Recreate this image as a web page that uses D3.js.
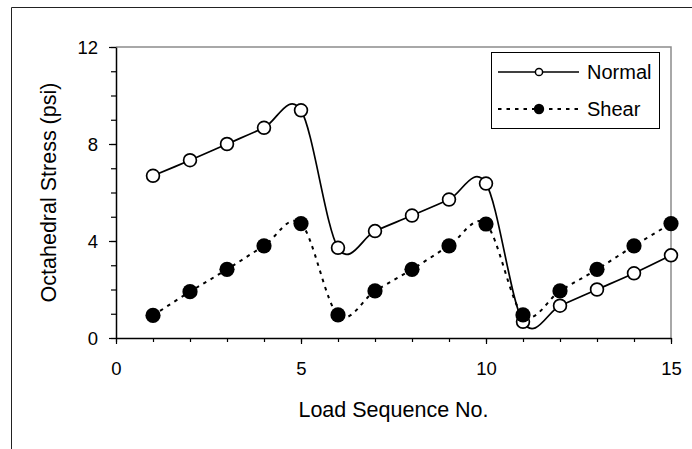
<!DOCTYPE html>
<html>
<head>
<meta charset="utf-8">
<script src="https://cdn.jsdelivr.net/npm/d3@7"></script>
<style>
  html, body { margin: 0; padding: 0; background: #fff; }
  svg { display: block; }
  text { font-family: "Liberation Sans", Arial, sans-serif; fill: #000; }
</style>
</head>
<body>
<svg id="chart" width="692" height="449"></svg>
<script>
// ---- data ----
const loadSeq = [1, 2, 3, 4, 5, 6, 7, 8, 9, 10, 11, 12, 13, 14, 15];
const normalStress = [6.69, 7.33, 8.00, 8.67, 9.39, 3.72, 4.41, 5.05, 5.71, 6.37, 0.67, 1.33, 2.00, 2.67, 3.41];
const shearStress  = [0.93, 1.91, 2.83, 3.80, 4.72, 0.95, 1.94, 2.83, 3.80, 4.70, 0.95, 1.94, 2.83, 3.80, 4.72];
const xTickLabels = [0, 5, 10, 15];
const yTickLabels = [0, 4, 8, 12];
const seriesNames = ["Normal", "Shear"];
const xTitle = "Load Sequence No.";
const yTitle = "Octahedral Stress (psi)";

const svg = d3.select("#chart");
const W = 692, H = 449;
const plot = { left: 116, right: 671, top: 47, bottom: 338 };

// outer frame (left and top edges visible)
svg.append("path")
  .attr("d", `M11.5,${H} L11.5,7.5 L${W},7.5`)
  .attr("fill", "none").attr("stroke", "#222").attr("stroke-width", 1);

const x = d3.scaleLinear().domain([0, 15]).range([plot.left, plot.right]);
const y = d3.scaleLinear().domain([0, 12]).range([plot.bottom, plot.top]);

// plot border top & right (gray)
svg.append("path")
  .attr("d", `M${plot.left},${plot.top} L${plot.right},${plot.top} L${plot.right},${plot.bottom}`)
  .attr("fill", "none").attr("stroke", "#8c8c8c").attr("stroke-width", 1.5);

// minor ticks
svg.append("g").attr("transform", `translate(${plot.left},0)`)
  .call(d3.axisLeft(y).tickValues(d3.range(0, 13)).tickSize(5).tickFormat(""))
  .call(g => g.select(".domain").remove())
  .call(g => g.selectAll("line").attr("stroke", "#000").attr("stroke-width", 1.2));
svg.append("g").attr("transform", `translate(0,${plot.bottom})`)
  .call(d3.axisBottom(x).tickValues(d3.range(0, 16)).tickSize(4).tickFormat(""))
  .call(g => g.select(".domain").remove())
  .call(g => g.selectAll("line").attr("stroke", "#000").attr("stroke-width", 1.2));

// major ticks + labels
const yAxis = svg.append("g").attr("transform", `translate(${plot.left},0)`)
  .call(d3.axisLeft(y).tickValues(yTickLabels).tickSize(7).tickPadding(11).tickSizeOuter(0));
yAxis.select(".domain").attr("stroke", "#000").attr("stroke-width", 1.5);
yAxis.selectAll("line").attr("stroke", "#000").attr("stroke-width", 1.2);
yAxis.selectAll("text").attr("font-size", 18.5).attr("font-family", "Liberation Sans, Arial, sans-serif")
  .attr("fill", "#000").attr("dy", "0.36em");

const xAxis = svg.append("g").attr("transform", `translate(0,${plot.bottom})`)
  .call(d3.axisBottom(x).tickValues(xTickLabels).tickSize(6).tickPadding(18).tickSizeOuter(0));
xAxis.select(".domain").attr("stroke", "#000").attr("stroke-width", 1.5);
xAxis.selectAll("line").attr("stroke", "#000").attr("stroke-width", 1.2);
xAxis.selectAll("text").attr("font-size", 18.5).attr("font-family", "Liberation Sans, Arial, sans-serif")
  .attr("fill", "#000");

// axis titles
svg.append("text")
  .attr("x", (plot.left + plot.right) / 2).attr("y", 417)
  .attr("text-anchor", "middle").attr("font-size", 21.5)
  .text(xTitle);
svg.append("text")
  .attr("transform", `translate(56,${(plot.top + plot.bottom) / 2}) rotate(-90)`)
  .attr("text-anchor", "middle").attr("font-size", 21.5)
  .text(yTitle);

// lines
const curve = d3.curveCardinal.tension(0);
const normalData = loadSeq.map((d, i) => [d, normalStress[i]]);
const shearData = loadSeq.map((d, i) => [d, shearStress[i]]);
const line = d3.line().x(d => x(d[0])).y(d => y(d[1])).curve(curve);

svg.append("path").datum(normalData)
  .attr("d", line).attr("fill", "none").attr("stroke", "#000").attr("stroke-width", 1.7);
svg.append("g").selectAll("circle").data(normalData).join("circle")
  .attr("cx", d => x(d[0])).attr("cy", d => y(d[1])).attr("r", 6.4)
  .attr("fill", "#fff").attr("stroke", "#000").attr("stroke-width", 1.7);

svg.append("path").datum(shearData)
  .attr("d", line).attr("fill", "none").attr("stroke", "#000").attr("stroke-width", 2)
  .attr("stroke-dasharray", "3.5,5");
svg.append("g").selectAll("circle").data(shearData).join("circle")
  .attr("cx", d => x(d[0])).attr("cy", d => y(d[1])).attr("r", 7.6)
  .attr("fill", "#000");

// legend
const lg = svg.append("g");
lg.append("rect").attr("x", 491.5).attr("y", 52.5).attr("width", 168).attr("height", 76)
  .attr("fill", "#fff").attr("stroke", "#000").attr("stroke-width", 1);
const rows = [72, 109];
// Normal
lg.append("line").attr("x1", 498).attr("x2", 579).attr("y1", rows[0]).attr("y2", rows[0])
  .attr("stroke", "#000").attr("stroke-width", 1.7);
lg.append("circle").attr("cx", 539).attr("cy", rows[0]).attr("r", 3.6)
  .attr("fill", "#fff").attr("stroke", "#000").attr("stroke-width", 1.5);
// Shear
lg.append("line").attr("x1", 498).attr("x2", 579).attr("y1", rows[1]).attr("y2", rows[1])
  .attr("stroke", "#000").attr("stroke-width", 2).attr("stroke-dasharray", "3.5,5");
lg.append("circle").attr("cx", 539).attr("cy", rows[1]).attr("r", 5.2).attr("fill", "#000");
lg.selectAll("text.lab").data(seriesNames).join("text").attr("class", "lab")
  .attr("x", 587).attr("y", (d, i) => rows[i] + 7.2)
  .attr("font-size", 20).text(d => d);
</script>
</body>
</html>
